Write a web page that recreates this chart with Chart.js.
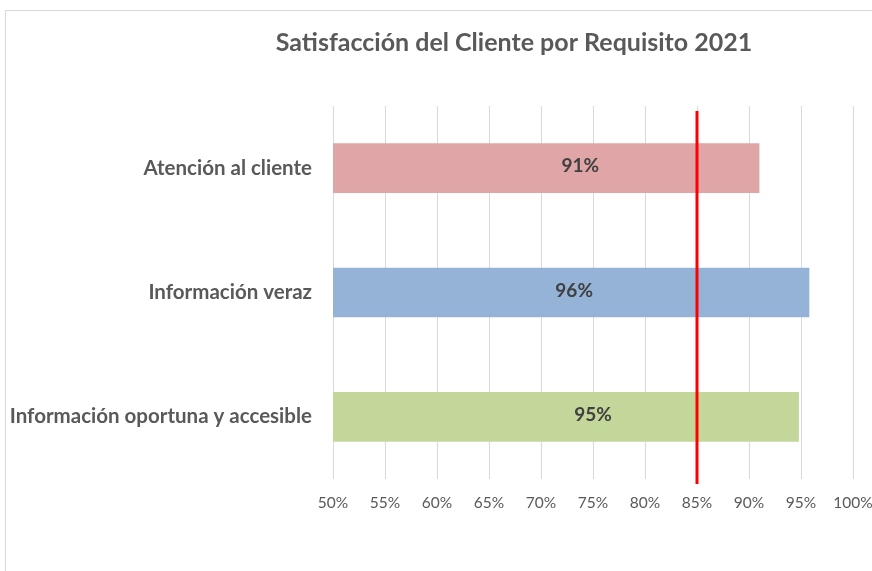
<!DOCTYPE html>
<html>
<head>
<meta charset="utf-8">
<script src="https://cdn.jsdelivr.net/npm/chart.js@4"></script>
<style>
  body { margin: 0; background: #fff; }
  #marco { position: absolute; left: 5px; top: 10px; width: 900px; height: 600px;
           border-left: 1px solid #d9d9d9; border-top: 1px solid #d9d9d9; }
  #caja { position: absolute; left: 0; top: 0; width: 872px; height: 571px; }
</style>
</head>
<body>
<div id="marco"></div>
<div id="caja"><canvas id="requisito-chart"></canvas></div>
<script>
// DATOS
const titulo = "Satisfacción del Cliente por Requisito 2021";
const requisitos = ["Atención al cliente", "Información veraz", "Información oportuna y accesible"];
const satisfaccion = [0.91, 0.958, 0.948];
const etiquetas = ["91%", "96%", "95%"];
const colores = ["#e0a5a6", "#95b3d7", "#c4d79b"];
const meta = 0.85;

const FUENTE = "Lato, 'Open Sans', sans-serif";

// linea roja de meta + etiquetas + titulo
const extras = {
  id: "extras",
  afterDatasetsDraw(chart, args, opts) {
    const ctx = chart.ctx;
    const area = chart.chartArea;
    const x = chart.scales.x.getPixelForValue(meta);
    ctx.save();
    ctx.strokeStyle = "#ff0000";
    ctx.lineWidth = 3;
    ctx.beginPath();
    ctx.moveTo(x, area.top + 5);
    ctx.lineTo(x, area.bottom + 5);
    ctx.stroke();

    ctx.fillStyle = "#404040";
    ctx.font = "bold 19px " + FUENTE;
    ctx.textAlign = "center";
    ctx.textBaseline = "middle";
    chart.getDatasetMeta(0).data.forEach((bar, i) => {
      const cx = (area.left + bar.x) / 2 + opts.desplazar[i];
      ctx.fillText(etiquetas[i], cx, bar.y - 2);
    });

    ctx.fillStyle = "#595959";
    ctx.font = "bold 25px " + FUENTE;
    ctx.fillText(titulo, 514, 43);
    ctx.restore();
  },
};

const data = {
  labels: requisitos,
  datasets: [
    {
      data: satisfaccion,
      backgroundColor: colores,
      borderWidth: 0,
      barPercentage: 0.4,
      categoryPercentage: 1,
    },
  ],
};

const config = {
  type: "bar",
  data: data,
  plugins: [extras],
  options: {
    indexAxis: "y",
    responsive: true,
    maintainAspectRatio: false,
    animation: false,
    layout: { padding: { top: 106, right: 19, bottom: 0, left: 0 } },
    scales: {
      x: {
        min: 0.5,
        max: 1,
        afterFit: (scale) => {
          scale.height = 92;
          scale.paddingLeft = 0;
          scale.paddingRight = 0;
        },
        ticks: {
          stepSize: 0.05,
          padding: 15,
          color: "#595959",
          font: { family: FUENTE, size: 15.5 },
          callback: (v) => Math.round(v * 100) + "%",
        },
        grid: { color: "#d9d9d9", drawTicks: false },
        border: { display: false },
      },
      y: {
        afterFit: (scale) => { scale.width = 333; },
        ticks: {
          padding: 21,
          color: "#595959",
          font: { family: FUENTE, size: 20.5, weight: "bold" },
        },
        grid: { display: false, drawTicks: false },
        border: { display: false },
      },
    },
    plugins: {
      legend: { display: false },
      tooltip: { enabled: false },
      extras: { desplazar: [34, 3, 27] },
    },
  },
};

const myChart = new Chart(document.getElementById("requisito-chart"), config);
</script>
</body>
</html>
